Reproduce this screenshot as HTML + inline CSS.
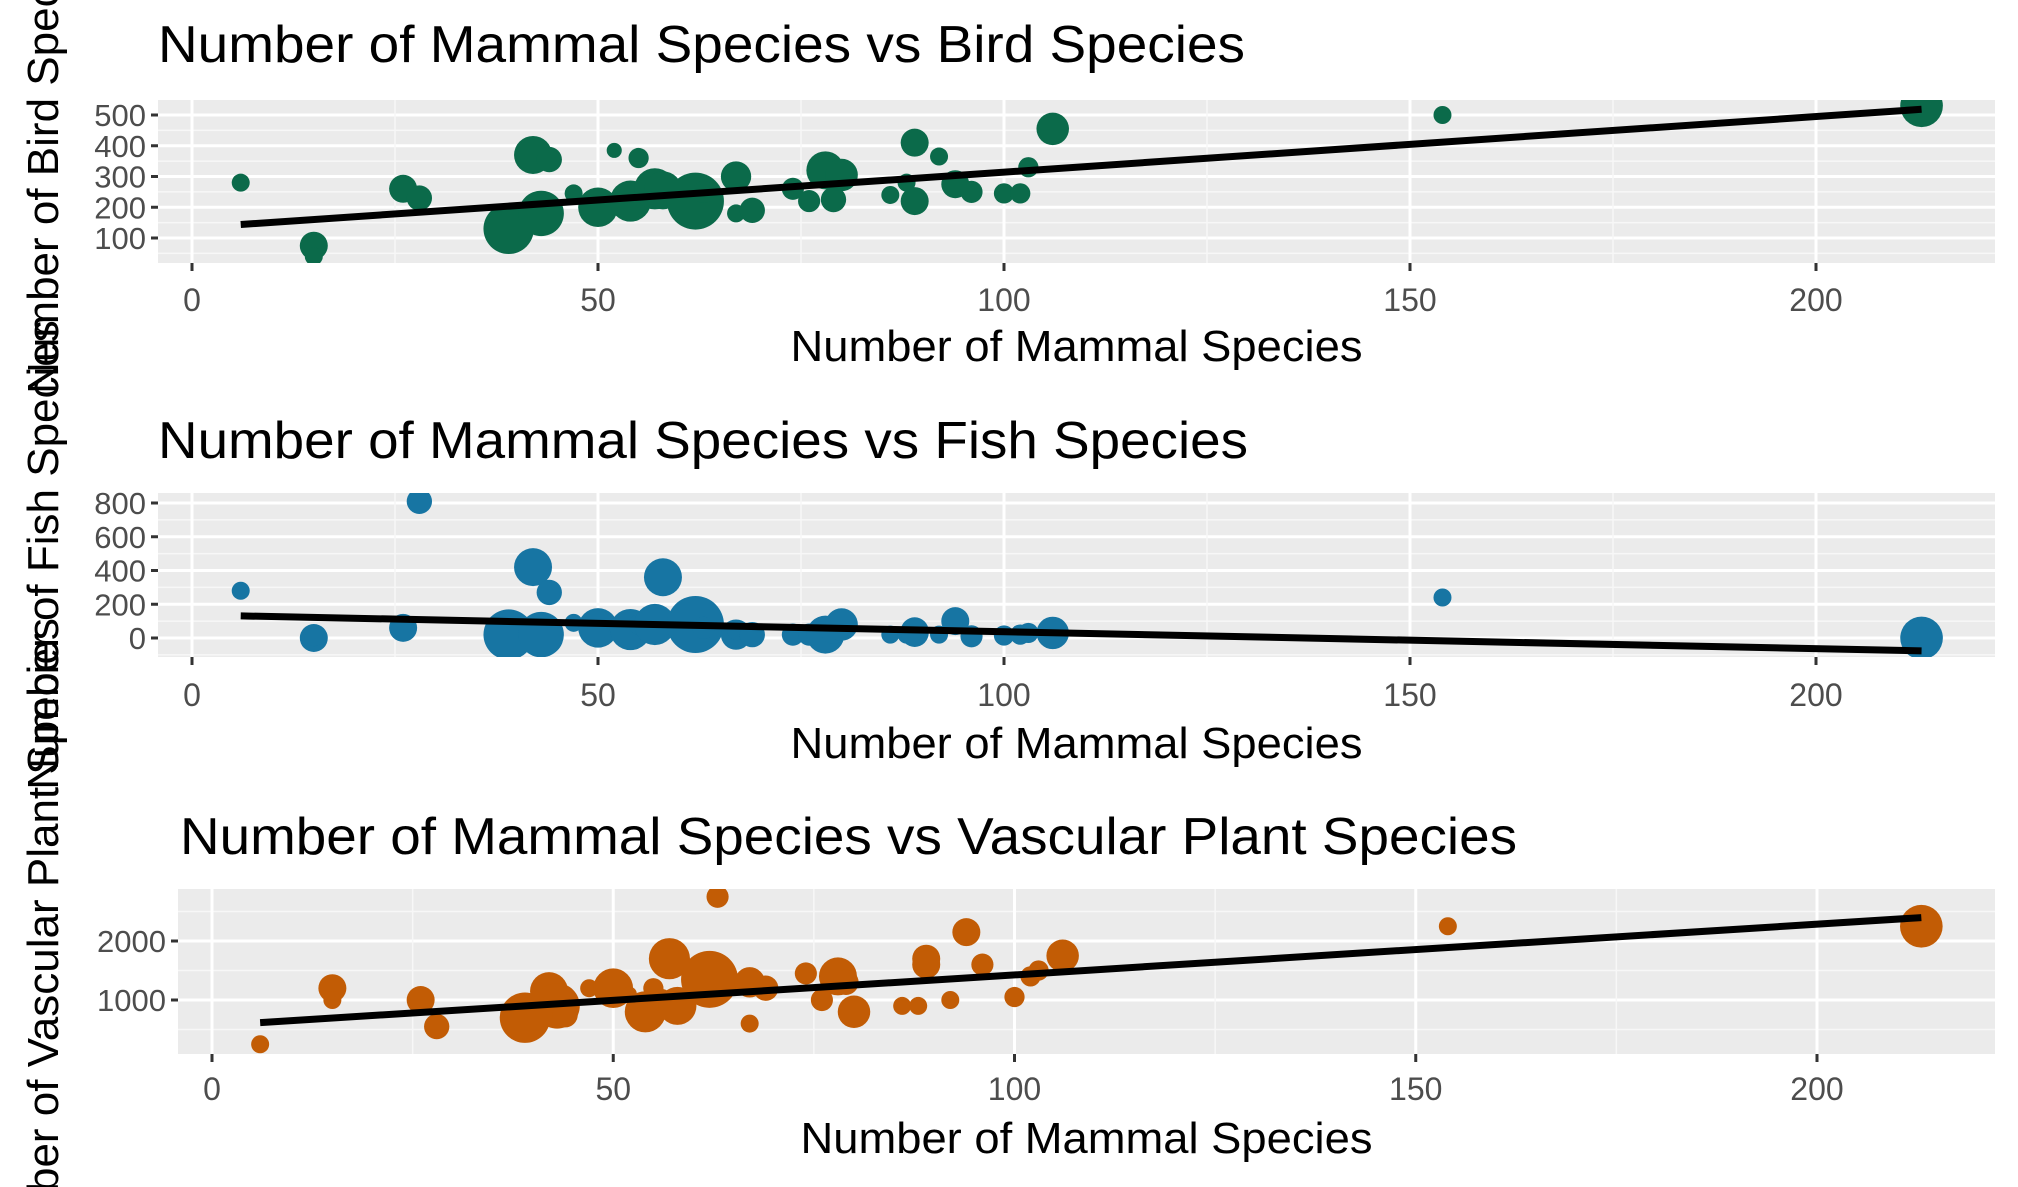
<!DOCTYPE html>
<html><head><meta charset="utf-8"><style>
html,body{margin:0;padding:0;background:#fff;overflow:hidden;width:2018px;height:1187px;}
svg{display:block;font-family:"Liberation Sans",Arial,sans-serif;overflow:hidden;}
</style></head><body>
<svg id="chart" width="2018" height="1187" viewBox="0 0 2018 1187" xmlns="http://www.w3.org/2000/svg"></svg>
<script>
// ---- data ----
const mammals = [6,15,15,26,28,39,42,43,44,47,50,52,54,55,56,57,58,62,63,67,67,69,74,76,78,79,80,86,88,89,89,92,94,96,100,102,103,106,154,213];
const birds   = [280,75,40,260,230,130,370,180,355,245,200,385,220,360,250,260,255,220,250,300,180,190,260,220,320,225,305,240,280,410,220,365,275,250,245,245,330,455,500,530];
const fish    = [280,0,5,60,810,20,420,20,270,90,60,70,50,80,80,80,360,80,60,20,40,20,20,20,20,40,80,20,20,30,40,20,100,10,15,20,30,30,240,0];
const plants  = [250,1200,1000,1000,550,700,1150,900,750,1200,1200,1100,800,1200,1000,1700,900,1350,2750,1300,600,1200,1450,1000,1400,1300,800,900,900,1700,1600,1000,2150,1600,1050,1400,1500,1750,2250,2250];
const sizes   = [1,4,1,4,3,18,9,14,3,1,10,0.5,11,1.5,2,11,9,24,2,5,1,3,2,2,9,3,6,1,1,4,4,1,4,2,1.5,1.5,1.5,6,1,12];
const fitIntercept = [133, 137, 565];
const fitSlope = [1.81, -1.0, 8.6];
const panelTitles = ["Number of Mammal Species vs Bird Species","Number of Mammal Species vs Fish Species","Number of Mammal Species vs Vascular Plant Species"];
const yTitles = ["Number of Bird Species","Number of Fish Species","Number of Vascular Plant Species"];
const xTicks = [0,50,100,150,200];
const yTicks1 = [100,200,300,400,500];
const yTicks2 = [0,200,400,600,800];
const yTicks3 = [1000,2000];

const NS="http://www.w3.org/2000/svg";
const svg=document.getElementById('chart');
function mk(tag,attrs,parent){const e=document.createElementNS(NS,tag);for(const k in attrs)e.setAttribute(k,attrs[k]);(parent||svg).appendChild(e);return e;}

const panels=[
 {left:158,right:1995,top:100,bottom:263,x0:192,xppu:8.12,yRef:100,yRefPx:238,yppu:0.3075,yvals:birds,ticks:yTicks1,minorStep:50,majorStep:100,color:"#0B6A4A",titleX:158,titleW:1087,titleY:62,xtickY:311,xtitleY:361,name:"bird"},
 {left:158,right:1995,top:493,bottom:657,x0:192,xppu:8.12,yRef:0,yRefPx:638,yppu:0.16875,yvals:fish,ticks:yTicks2,minorStep:100,majorStep:200,color:"#1775A3",titleX:158,titleW:1090,titleY:458,xtickY:706,xtitleY:758,name:"fish"},
 {left:178,right:1995,top:889,bottom:1054,x0:212,xppu:8.025,yRef:1000,yRefPx:1000,yppu:0.059,yvals:plants,ticks:yTicks3,minorStep:500,majorStep:1000,color:"#C25C05",titleX:180,titleW:1337,titleY:854,xtickY:1100,xtitleY:1153,name:"plant"}
];

panels.forEach((p,pi)=>{
  const xs=v=>p.x0+v*p.xppu;
  const ys=v=>p.yRefPx-(v-p.yRef)*p.yppu;
  const g=mk('g',{});
  
  
  const clipId='clip'+pi;
  const cp=mk('clipPath',{id:clipId},g);
  mk('rect',{x:p.left,y:p.top,width:p.right-p.left,height:p.bottom-p.top},cp);
  const bg=mk('rect',{x:p.left,y:p.top,width:p.right-p.left,height:p.bottom-p.top,fill:"#EBEBEB"},g);
  
  
  const grid=mk('g',{'clip-path':'url(#'+clipId+')'},g);
  const vTop=p.yRef+(p.yRefPx-p.top)/p.yppu, vBot=p.yRef-(p.bottom-p.yRefPx)/p.yppu;
  for(let v=Math.ceil(vBot/p.minorStep)*p.minorStep;v<=vTop;v+=p.minorStep){
    const major=(Math.round(v/p.majorStep)*p.majorStep===v);
    mk('line',{x1:p.left,x2:p.right,y1:ys(v),y2:ys(v),stroke:major?"#fff":"#F7F7F7","stroke-width":major?3:1.5},grid);
  }
  for(let v=-25;v<=250;v+=25){
    const x=xs(v); if(x<p.left||x>p.right)continue;
    const major=(v%50===0);
    mk('line',{x1:x,x2:x,y1:p.top,y2:p.bottom,stroke:major?"#fff":"#F7F7F7","stroke-width":major?3:1.5},grid);
  }
  const pts=mk('g',{'clip-path':'url(#'+clipId+')'},g);
  mammals.forEach((m,i)=>{
    const c=mk('circle',{cx:xs(m),cy:ys(p.yvals[i]),r:4+Math.sqrt(sizes[i])*5,fill:p.color},pts);
    
    
  });
  const xmin=Math.min(...mammals), xmax=Math.max(...mammals);
  const fl=mk('line',{x1:xs(xmin),y1:ys(fitIntercept[pi]+fitSlope[pi]*xmin),x2:xs(xmax),y2:ys(fitIntercept[pi]+fitSlope[pi]*xmax),stroke:"#000","stroke-width":7,'clip-path':'url(#'+clipId+')'},g);
  
  
  p.ticks.forEach(t=>{
    mk('line',{x1:p.left-7,x2:p.left,y1:ys(t),y2:ys(t),stroke:"#333","stroke-width":3},g);
    const tx=mk('text',{x:p.left-12,y:ys(t)+11,'text-anchor':'end','font-size':31,fill:"#4D4D4D"},g);
    tx.textContent=t;
    
    
  });
  xTicks.forEach(t=>{
    mk('line',{x1:xs(t),x2:xs(t),y1:p.bottom,y2:p.bottom+8,stroke:"#333","stroke-width":3},g);
    const tx=mk('text',{x:xs(t),y:p.xtickY,'text-anchor':'middle','font-size':32,fill:"#4D4D4D"},g);
    tx.textContent=t;
    
    
  });
  const xt=mk('text',{x:(p.left+p.right)/2,y:p.xtitleY,'text-anchor':'middle','font-size':44,fill:"#000",textLength:572,lengthAdjust:"spacingAndGlyphs"},g);
  xt.textContent="Number of Mammal Species";
  
  
  const tt=mk('text',{x:p.titleX,y:p.titleY,'font-size':52,fill:"#000",textLength:p.titleW,lengthAdjust:"spacingAndGlyphs"},g);
  tt.textContent=panelTitles[pi];
  
  
  const cy=(p.top+p.bottom)/2;
  const yt=mk('text',{x:0,y:0,'text-anchor':'middle','font-size':44,fill:"#000",transform:'translate(58,'+(cy-20)+') rotate(-90)'},g);
  yt.textContent=yTitles[pi];
  
  
});
</script>
</body></html>
